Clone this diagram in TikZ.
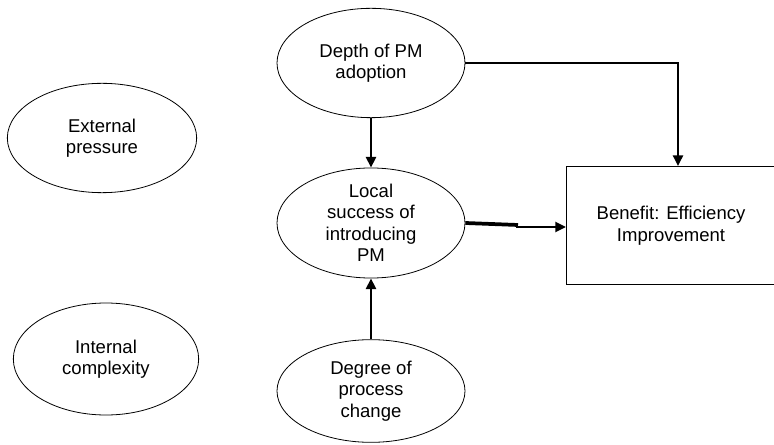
\documentclass[tikz,border=0pt]{standalone}
\usepackage{fontspec}
\setmainfont{Liberation Sans}
\usetikzlibrary{shapes.geometric,arrows.meta}

\begin{document}
\begin{tikzpicture}[x=0.75pt,y=-0.75pt,
    every node/.style={font=\fontsize{13.9}{16.1}\selectfont},
    factor/.style={ellipse,draw,line width=0.6pt,inner sep=0pt,
        minimum width=141pt,minimum height=82pt,align=center},
    outcome/.style={rectangle,draw,line width=0.6pt,inner sep=0pt,
        minimum width=155pt,minimum height=89pt,align=center},
    link/.style={line width=1.8pt,-{Triangle[length=8pt,width=7.5pt]}}]
    \useasboundingbox (0,0) rectangle (774,445);
    \clip (0,0) rectangle (774,445);
    %\draw[very thin,color=gray] (0,0) grid[step=50] (774,445);
    \node[factor] (depth) at (371,63) {Depth of PM\\adoption};
    \node[factor] (local) at (371,223) {Local\\success of\\introducing\\PM};
    \node[factor,minimum height=77pt] (degree) at (371,391) {Degree of\\process\\change};
    \node[factor,minimum width=142pt] (external) at (102,138) {External\\pressure};
    \node[factor,minimum width=139pt,minimum height=84pt] (internal) at (106,359) {Internal\\complexity};
    \node[outcome,minimum width=157pt] (benefit) at (671,225.5) {Benefit: Efficiency\\Improvement};
    \coordinate (jogA) at (518,225);
    \coordinate (jogB) at (516,227);
    \draw[link] (depth.east) -| (678,166);
    \draw[link] (depth.south) -- (local.north);
    \draw[link] (degree.north) -- (local.south);
    \draw[line width=2.8pt] (local.east) -- (jogA);
    \draw[link] (jogB) -- (jogB -| benefit.west);
\end{tikzpicture}
\end{document}
